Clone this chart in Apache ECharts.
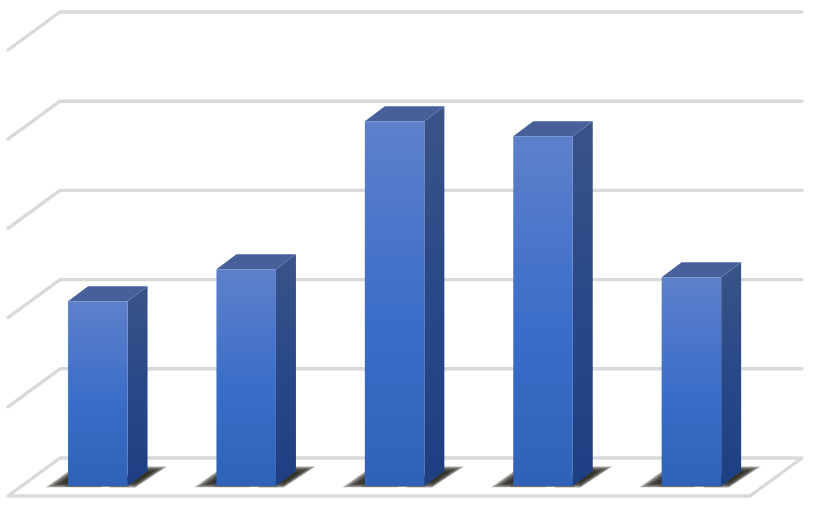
<!DOCTYPE html>
<html><head><meta charset="utf-8">
<style>html,body{margin:0;padding:0;background:#fff}#c{width:815px;height:505px}</style>
<script src="https://cdn.jsdelivr.net/npm/echarts@6/dist/echarts.min.js"></script>
</head><body><div id="c"></div>
<script>
var categories = ['A','B','C','D','E'];
var values = [2.07, 2.43, 4.09, 3.92, 2.34];
var gridValues = [0, 1, 2, 3, 4, 5];

var GRID = '#d9d9d9';
var chart = echarts.init(document.getElementById('c'), null, {renderer:'canvas'});
function lg(stops){return {type:'linear',x:0,y:0,x2:0,y2:1,colorStops:stops};}

function wallItem(params, api){
  var v = api.value(0);
  var p = api.coord([0, v]);
  var left = api.coord([0,5])[0] - api.size([1,0])[0]/2;
  var right = left + api.size([1,0])[0]*5;
  var y = p[1];
  var st = {stroke:GRID, lineWidth:3.4, fill:null, lineCap:'round', lineJoin:'round'};
  var pts = v === 0
    ? [[left,y],[right,y],[right-52,y+38],[left-52,y+38],[left,y]]
    : [[left-52,y+38],[left,y],[right,y]];
  return {type:'polyline', shape:{points:pts}, style:st, silent:true};
}
// soft-edged shadow: nested translucent copies of one polygon
function softShadow(points){
  var cx = 0, cy = 0;
  points.forEach(function(p){cx += p[0]/points.length; cy += p[1]/points.length;});
  return [1.18, 1.06, 0.94, 0.82, 0.7, 0.55].map(function(s){
    return {type:'polygon', z2:1,
      shape:{points:points.map(function(p){return [cx+(p[0]-cx)*s, cy+(p[1]-cy)*s];})},
      style:{fill:'rgba(38,36,28,0.36)'}};
  });
}
function barItem(params, api){
  var w = 59.5, dx = 20, dy = 15, ox = -36.4, oy = 28;
  var c = api.coord([api.value(0), api.value(1)]);
  var b = api.coord([api.value(0), 0]);
  var x0 = c[0] + ox - w/2, x1 = x0 + w;
  var yt = c[1] + oy, yb = b[1] + oy;
  var kids = []
    .concat(softShadow([[x0-17,yb],[x0+4,yb-15],[x0+30,yb-15],[x0+30,yb]]))
    .concat(softShadow([[x1-14,yb],[x1+dx-10,yb-dy-3],[x1+35,yb-18],[x1+8,yb]]));
  kids.push(
    {type:'rect', z2:1, shape:{x:x0-3,y:yb-1,width:w+4,height:2},
      style:{fill:'rgba(100,98,86,0.75)'}},
    {type:'polygon', z2:3, shape:{points:[[x1,yt],[x1+dx,yt-dy],[x1+dx,yb-dy],[x1,yb]]},
      style:{fill:lg([{offset:0,color:'#3b5487'},{offset:0.5,color:'#284888'},{offset:1,color:'#1d3f83'}])}},
    {type:'polygon', z2:3, shape:{points:[[x0,yt],[x1,yt],[x1+dx,yt-dy],[x0+dx,yt-dy]]},
      style:{fill:'#48609a'}},
    {type:'polygon', z2:4, shape:{points:[[x0,yt],[x1,yt],[x1,yb],[x0,yb]]},
      style:{fill:lg([{offset:0,color:'#5e80cb'},{offset:0.55,color:'#3a6dc9'},{offset:1,color:'#2f62b7'}])}}
  );
  return {type:'group', children:kids};
}
chart.setOption({
  animation:false,
  backgroundColor:'#fff',
  grid:{left:60,right:13,top:12,bottom:47},
  xAxis:{type:'category',data:categories,show:false,boundaryGap:true},
  yAxis:{type:'value',min:0,max:5,interval:1,show:false},
  series:[
    {type:'custom',z:1,renderItem:wallItem,data:gridValues.map(function(v){return [v];}),encode:{y:0},clip:false,silent:true},
    {type:'custom',z:2,renderItem:barItem,data:values.map(function(v,i){return [i,v];}),encode:{x:0,y:1},clip:false,silent:true}
  ]
});
</script></body></html>
